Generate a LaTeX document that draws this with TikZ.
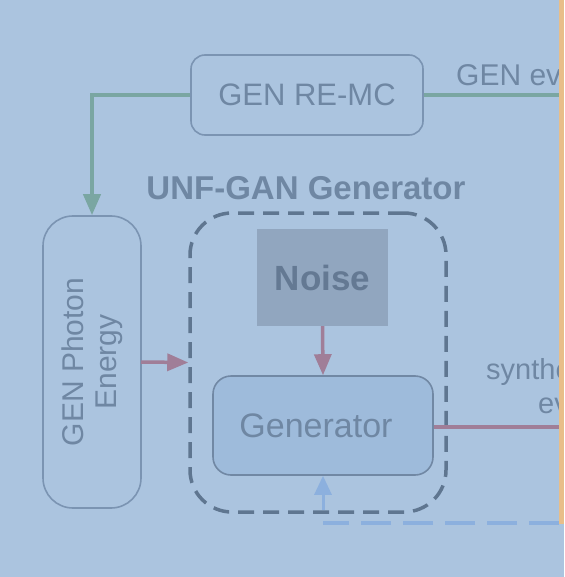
\documentclass[tikz,border=0pt]{standalone}
\usepackage{fontspec}
\setmainfont{Liberation Sans}
\usetikzlibrary{arrows.meta}
\definecolor{bg}{HTML}{ABC4DF}
\definecolor{txt}{HTML}{6F87A3}
\definecolor{edge}{HTML}{7B94B2}
\definecolor{dash}{HTML}{5F7690}
\definecolor{grn}{HTML}{7AA6A2}
\definecolor{mauve}{HTML}{A07E98}
\definecolor{blu}{HTML}{8CB0DE}
\definecolor{orng}{HTML}{E8BE8A}
\definecolor{noisefill}{HTML}{91A6BF}
\definecolor{genfill}{HTML}{9EBBDB}
\tikzset{
  box/.style={draw=edge, line width=1.6pt, text=txt, inner sep=0pt},
  fs/.style={font=\fontsize{#1}{#1}\selectfont},
  conn/.style={line width=3.5pt},
  tip/.style={-{Triangle[length=21pt,width=17pt]}},
}
\begin{document}
\begin{tikzpicture}[x=1pt,y=-1pt]
\useasboundingbox (0,0) rectangle (564,577);
\fill[bg] (0,0) rectangle (564,577);

% nodes
\node[box, rounded corners=14pt, minimum width=232pt, minimum height=80pt, fs=31] (remc) at (307,95) {GEN RE-MC};
\node[box, rounded corners=30pt, minimum width=98pt, minimum height=292pt] (photon) at (92,362) {};
\node[text=txt, rotate=90, align=center, fs=30] (photontext) at (92,362) {GEN Photon\\[3pt]Energy};
\node[draw=dash, line width=3.5pt, dash pattern=on 16pt off 9pt, rounded corners=42pt, minimum width=256pt, minimum height=299pt] (unf) at (318,362.5) {};
\node[text=txt, font=\bfseries\fontsize{33}{33}\selectfont] (unflabel) at (306,188) {UNF-GAN Generator};
\node[fill=noisefill, text=txt!90!black, minimum width=131pt, minimum height=97pt, font=\bfseries\fontsize{35}{35}\selectfont] (noise) at (322.5,277.5) {Noise};
\node[box, draw=edge!92!black, fill=genfill, rounded corners=18pt, minimum width=220pt, minimum height=99pt, fs=34] (gen) at (323,425.5) {\kern-14pt Generator};

% free ends
\coordinate (r1) at (559,95);
\coordinate (r2) at (559,427);
\coordinate (r3) at (559,523);
\coordinate (b1) at (323,523);
\coordinate (b2) at (323,510);
\coordinate (p1) at (141,362);

% connectors
\draw[conn, grn, line width=4pt, tip] (remc.west) -| (photon.north);
\draw[conn, grn, line width=4pt] (remc.east) -- (r1);
\draw[conn, mauve, tip] (p1) -- (unf.west);
\draw[conn, mauve, tip] (noise.south) -- (gen.north);
\draw[conn, mauve] (gen.east |- r2) -- (r2);
\draw[conn, blu, dash pattern=on 30pt off 12pt] (r3) -- (b1);
\draw[conn, blu, line width=3pt, -{Triangle[length=19pt,width=17pt]}] (b2) -- (gen.south);

% edge labels (cut by the strip)
\begin{scope}
\clip (0,0) rectangle (559,577);
\node[text=txt, anchor=base west, fs=30, inner sep=0pt] (lab1) at (456,86) {GEN ev};
\node[text=txt, anchor=base west, fs=29, inner sep=0pt] (lab2) at (486,379) {synthe};
\node[text=txt, anchor=base west, fs=29, inner sep=0pt] (lab3) at (538,413) {ev};
\end{scope}

\fill[orng] (559,0) rectangle (564,524);
\end{tikzpicture}
\end{document}
